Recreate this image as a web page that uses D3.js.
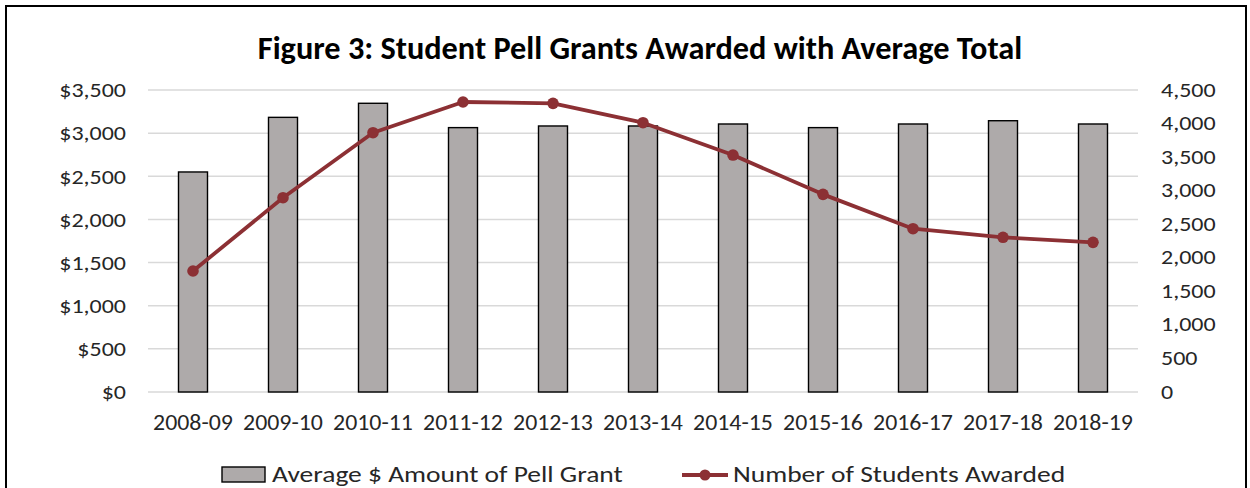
<!DOCTYPE html>
<html>
<head>
<meta charset="utf-8">
<script src="https://cdn.jsdelivr.net/npm/d3@7"></script>
<style>
  html, body { margin: 0; padding: 0; background: #fff; }
  svg { display: block; }
</style>
</head>
<body>
<svg id="chart" width="1250" height="488"></svg>
<script>
// Academic years on the category axis
const years = ["2008-09", "2009-10", "2010-11", "2011-12", "2012-13", "2013-14",
               "2014-15", "2015-16", "2016-17", "2017-18", "2018-19"];
// Average Pell Grant amount per student (left axis, dollars)
const avgAmount = [2550, 3183, 3346, 3064, 3083, 3083, 3106, 3064, 3106, 3144, 3106];
// Number of students awarded a Pell Grant (right axis)
const studentsAwarded = [1803, 2895, 3864, 4321, 4301, 4013, 3531, 2945, 2433, 2305, 2230];
// Axis tick values
const leftTicks = [0, 500, 1000, 1500, 2000, 2500, 3000, 3500];
const rightTicks = [0, 500, 1000, 1500, 2000, 2500, 3000, 3500, 4000, 4500];

const titleText = "Figure 3: Student Pell Grants Awarded with Average Total";
const barLabel = "Average $ Amount of Pell Grant";
const lineLabel = "Number of Students Awarded";

const svg = d3.select("#chart");
const W = 1250, H = 488;
const plot = { left: 148, right: 1138, top: 90, bottom: 392 };

const barFill = "#AEAAAA";
const lineColor = "#8C3034";
const gridColor = "#D9D9D9";
const textColor = "#262626";
const font = "Carlito, Lato, 'Open Sans', sans-serif";

// Text in this chart is set a little wider than the font's natural width
const wide = (sel, sx) => sel.attr("transform", `scale(${sx},1)`);

// Outer frame
svg.append("rect")
  .attr("x", 6).attr("y", 6).attr("width", W - 10).attr("height", H + 10)
  .attr("fill", "#fff").attr("stroke", "#000").attr("stroke-width", 2);

const x = d3.scaleBand().domain(years).range([plot.left, plot.right]);
const yLeft = d3.scaleLinear().domain([0, 3500]).range([plot.bottom, plot.top]);
const yRight = d3.scaleLinear().domain([0, 4500]).range([plot.bottom, plot.top]);

// Title
svg.append("text")
  .attr("x", 640).attr("y", 59)
  .attr("text-anchor", "middle")
  .attr("font-family", font).attr("font-weight", "bold").attr("font-size", 32.3)
  .attr("fill", "#000")
  .text(titleText);

// Horizontal gridlines
svg.append("g").selectAll("line").data(leftTicks).join("line")
  .attr("x1", plot.left).attr("x2", plot.right)
  .attr("y1", d => yLeft(d)).attr("y2", d => yLeft(d))
  .attr("stroke", gridColor).attr("stroke-width", 1.5);

// Left axis (dollars)
const leftAxis = d3.axisLeft(yLeft).tickValues(leftTicks).tickSize(0).tickPadding(0)
  .tickFormat(d => "$" + d3.format(",")(d));
const gL = svg.append("g").attr("transform", "translate(126,0)").call(leftAxis);
gL.select(".domain").remove();
gL.selectAll("text").attr("font-family", font).attr("font-size", 20).attr("fill", textColor)
  .attr("x", 0).attr("dy", "0.34em").call(wide, 1.2);

// Right axis (students)
const rightAxis = d3.axisRight(yRight).tickValues(rightTicks).tickSize(0).tickPadding(0)
  .tickFormat(d3.format(","));
const gR = svg.append("g").attr("transform", "translate(1161,0)").call(rightAxis);
gR.select(".domain").remove();
gR.selectAll("text").attr("font-family", font).attr("font-size", 20).attr("fill", textColor)
  .attr("x", 0).attr("dy", "0.3em").call(wide, 1.2);

// Category axis labels
const bottomAxis = d3.axisBottom(x).tickSize(0).tickPadding(0);
const gB = svg.append("g").attr("transform", `translate(0,${plot.bottom})`).call(bottomAxis);
gB.select(".domain").remove();
gB.selectAll("text").attr("font-family", font).attr("font-size", 21.5).attr("fill", textColor)
  .attr("y", 38).attr("dy", 0).call(wide, 1.11);

// Bars
const barW = 29;
svg.append("g").selectAll("rect").data(years).join("rect")
  .attr("x", d => x(d) + x.bandwidth() / 2 - barW / 2)
  .attr("y", (d, i) => yLeft(avgAmount[i]))
  .attr("width", barW)
  .attr("height", (d, i) => plot.bottom - yLeft(avgAmount[i]))
  .attr("fill", barFill).attr("stroke", "#000").attr("stroke-width", 1.4);

// Line for number of students
const line = d3.line()
  .x((d, i) => x(years[i]) + x.bandwidth() / 2)
  .y(d => yRight(d));
svg.append("path").datum(studentsAwarded)
  .attr("d", line).attr("fill", "none")
  .attr("stroke", lineColor).attr("stroke-width", 3.8).attr("stroke-linejoin", "round");
svg.append("g").selectAll("circle").data(studentsAwarded).join("circle")
  .attr("cx", (d, i) => x(years[i]) + x.bandwidth() / 2)
  .attr("cy", d => yRight(d))
  .attr("r", 5.8).attr("fill", lineColor);

// Legend
const legend = svg.append("g");
legend.append("rect")
  .attr("x", 222).attr("y", 467).attr("width", 43).attr("height", 15)
  .attr("fill", barFill).attr("stroke", "#000").attr("stroke-width", 1.4);
legend.append("g").attr("transform", "translate(272,482)")
  .append("text")
  .attr("font-family", font).attr("font-size", 22).attr("fill", textColor)
  .text(barLabel).call(wide, 1.25);
legend.append("line")
  .attr("x1", 682).attr("x2", 728).attr("y1", 475).attr("y2", 475)
  .attr("stroke", lineColor).attr("stroke-width", 3.8);
legend.append("circle")
  .attr("cx", 705).attr("cy", 475).attr("r", 5.5).attr("fill", lineColor);
legend.append("g").attr("transform", "translate(733,482)")
  .append("text")
  .attr("font-family", font).attr("font-size", 22).attr("fill", textColor)
  .text(lineLabel).call(wide, 1.25);
</script>
</body>
</html>
